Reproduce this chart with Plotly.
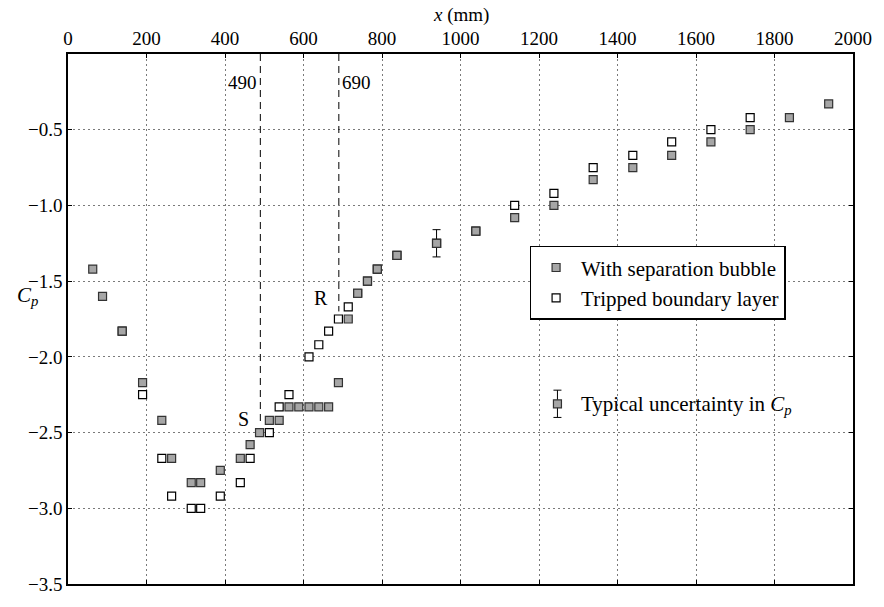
import plotly.graph_objects as go

# ---- data ----
bubble_x = [63, 88, 138, 190, 239, 264, 314, 338, 388, 439, 464, 488, 513, 538,
            563, 588, 614, 639, 664, 689, 714, 738, 763, 788, 838, 939, 1039,
            1138, 1238, 1338, 1439, 1538, 1638, 1738, 1838, 1938]
bubble_cp = [-1.42, -1.60, -1.83, -2.17, -2.42, -2.67, -2.83, -2.83, -2.75, -2.67,
             -2.58, -2.50, -2.42, -2.42, -2.33, -2.33, -2.33, -2.33, -2.33, -2.17,
             -1.75, -1.58, -1.50, -1.42, -1.33, -1.25, -1.17, -1.08, -1.00, -0.83,
             -0.75, -0.67, -0.58, -0.50, -0.42, -0.33]

tripped_x = [138, 190, 239, 264, 314, 338, 388, 439, 464, 513, 538, 563, 614, 639,
             664, 689, 714, 738, 763, 788, 838, 939, 1039, 1138, 1238, 1338, 1439,
             1538, 1638, 1738]
tripped_cp = [-1.83, -2.25, -2.67, -2.92, -3.00, -3.00, -2.92, -2.83, -2.67, -2.50,
              -2.33, -2.25, -2.00, -1.92, -1.83, -1.75, -1.67, -1.58, -1.50, -1.42,
              -1.33, -1.25, -1.17, -1.00, -0.92, -0.75, -0.67, -0.58, -0.50, -0.42]

errbar_x = [939]
errbar_cp = [-1.25]
errbar_size = [0.09]

typical_x = [1247]
typical_cp = [-2.31]
typical_err = [0.09]

x_ticks = [0, 200, 400, 600, 800, 1000, 1200, 1400, 1600, 1800, 2000]
y_ticks = [-3.5, -3.0, -2.5, -2.0, -1.5, -1.0, -0.5]
y_ticktext = ["\u22123.5", "\u22123.0", "\u22122.5", "\u22122.0", "\u22121.5", "\u22121.0", "\u22120.5"]

sep_lines_x = [490, 690]
sep_lines_bottom = [-2.43, -1.70]
sep_labels = ["490", "690"]

FONT = "Liberation Serif"
FILL = "#a6a6a6"

fig = go.Figure()

fig.add_trace(go.Scatter(
    x=tripped_x, y=tripped_cp, mode="markers", name="Tripped boundary layer",
    legendrank=2,
    marker=dict(symbol="square", size=8, color="white", line=dict(color="black", width=1.2)),
))
fig.add_trace(go.Scatter(
    x=bubble_x, y=bubble_cp, mode="markers", name="With separation bubble",
    legendrank=1,
    marker=dict(symbol="square", size=8, color=FILL, line=dict(color="#333333", width=1.2)),
))
fig.add_trace(go.Scatter(
    x=errbar_x, y=errbar_cp, mode="markers", showlegend=False,
    marker=dict(symbol="square", size=8, color=FILL, line=dict(color="#333333", width=1.2)),
    error_y=dict(type="data", array=errbar_size, color="black", thickness=1, width=4),
))
fig.add_trace(go.Scatter(
    x=typical_x, y=typical_cp, mode="markers", showlegend=False,
    marker=dict(symbol="square", size=8, color=FILL, line=dict(color="#333333", width=1.2)),
    error_y=dict(type="data", array=typical_err, color="black", thickness=1, width=4),
))

for xv, yb, lab, anc in zip(sep_lines_x, sep_lines_bottom, sep_labels, ["right", "left"]):
    fig.add_shape(type="line", x0=xv, x1=xv, y0=0, y1=yb, xref="x", yref="y",
                  line=dict(color="black", width=1, dash="7px,5px"))
    fig.add_annotation(x=xv, y=-0.19, text=lab, showarrow=False, xanchor=anc,
                       xshift=-1 if anc == "right" else 1,
                       font=dict(family=FONT, size=19, color="black"))

fig.add_annotation(x=447, y=-2.41, text="S", showarrow=False,
                   font=dict(family=FONT, size=20, color="black"))
fig.add_annotation(x=644, y=-1.61, text="R", showarrow=False,
                   font=dict(family=FONT, size=20, color="black"))
fig.add_annotation(x=typical_x[0], y=typical_cp[0], text="Typical uncertainty in <i>C<sub>p</sub></i>",
                   showarrow=False, xanchor="left", xshift=22, yshift=-1,
                   font=dict(family=FONT, size=21, color="black"))

fig.add_annotation(xref="paper", yref="paper", x=0.5, y=1.074, yanchor="middle",
                   text="<i>x</i> (mm)", showarrow=False,
                   font=dict(family=FONT, size=19, color="black"))
fig.add_annotation(xref="paper", yref="paper", x=-0.052, y=0.543, xanchor="center",
                   yanchor="middle", text="<i>C<sub>p</sub></i>",
                   showarrow=False, font=dict(family=FONT, size=21, color="black"))

axis_common = dict(showline=True, linecolor="black", linewidth=1.5, mirror="ticks",
                   ticks="inside", ticklen=4, tickcolor="black", showgrid=True,
                   gridcolor="#7a7a7a", gridwidth=1, griddash="1.5px,3.5px", zeroline=False,
                   tickfont=dict(family=FONT, size=19, color="black"))

fig.update_xaxes(range=[0, 2000], side="top", tickvals=x_ticks, **axis_common)
fig.update_yaxes(range=[-3.5, 0], tickvals=y_ticks, ticktext=y_ticktext, **axis_common)

fig.update_layout(
    width=884, height=607,
    margin=dict(l=68, r=24, t=54, b=15),
    plot_bgcolor="white", paper_bgcolor="white",
    font=dict(family=FONT, color="black"),
    legend=dict(x=0.588, y=0.638, xanchor="left", yanchor="top",
                bordercolor="black", borderwidth=1.5, bgcolor="white",
                font=dict(family=FONT, size=21, color="black"),
                itemwidth=40, tracegroupgap=0),
)

fig.write_html("out.html")
